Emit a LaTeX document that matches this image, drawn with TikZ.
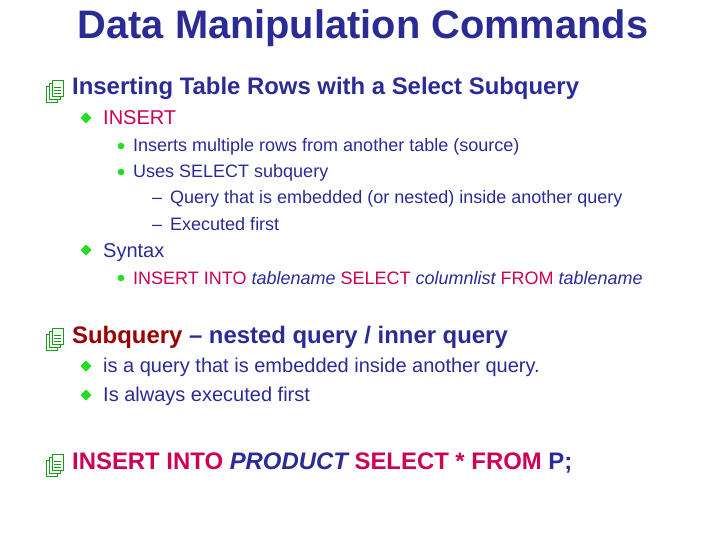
\documentclass[tikz,border=0pt]{standalone}
\usepackage{fontspec}
\setmainfont{Liberation Sans}
\usetikzlibrary{calc}
\definecolor{tblue}{HTML}{2B2B96}
\definecolor{tpink}{HTML}{CC0055}
\definecolor{tred}{HTML}{990000}
\definecolor{tgreen}{HTML}{22DD22}
\begin{document}
\begin{tikzpicture}[x=1pt,y=-1pt,
  every node/.style={anchor=base west,inner sep=0pt,text=tblue},
  ttl/.style={font=\fontsize{39.8}{42}\selectfont\bfseries},
  lone/.style={font=\fontsize{23.9}{26}\selectfont\bfseries},
  ltwo/.style={font=\fontsize{20}{22}\selectfont},
  lthree/.style={font=\fontsize{18}{20}\selectfont},
  diam/.style={fill=tgreen},
  dot/.style={fill=tgreen}]
\useasboundingbox (0,0) rectangle (720,540);
\node[ttl,anchor=base] (title) at (363,39) {Data Manipulation Commands};
\newcommand\pageicon[1]{%
  \foreach \d in {0,3,6}{\filldraw[draw=tgreen!70!black,fill=white,line width=0.6pt] ($(#1)+(\d,-\d)$) rectangle ++(11,-16);}
  \foreach \l in {3,6,9,12}{\draw[tgreen!70!black,line width=0.5pt] ($(#1)+(8,-3-\l)$) -- ++(7,0);}
}
\coordinate (i1) at (46,102); \pageicon{i1}
\coordinate (i2) at (46,350); \pageicon{i2}
\coordinate (i3) at (46,476); \pageicon{i3}
\node[lone] (a) at (72,95) {Inserting Table Rows with a Select Subquery};
\node[ltwo,text=tpink] (b) at (103,125) {INSERT};
\node[lthree] (c) at (133,152) {Inserts multiple rows from another table (source)};
\node[lthree] (d) at (133,178) {Uses SELECT subquery};
\node[lthree] (e) at (152,204) {–\hspace{8pt}Query that is embedded (or nested) inside another query};
\node[lthree] (f) at (152,230) {–\hspace{8pt}Executed first};
\node[ltwo] (g) at (103,257) {Syntax};
\node[lthree,text=tpink] (h) at (133,284) {INSERT INTO \textcolor{tblue}{\itshape tablename} SELECT \textcolor{tblue}{\itshape columnlist} FROM \textcolor{tblue}{\itshape tablename}};
\node[lone] (k) at (72,343) {\textcolor{tred}{Subquery} – nested query / inner query};
\node[ltwo] (l) at (103,372) {is a query that is embedded inside another query.};
\node[ltwo] (m) at (103,401) {Is always executed first};
\node[lone,text=tpink] (n) at (72,469) {INSERT INTO \textcolor{tblue}{\itshape PRODUCT} SELECT * FROM \textcolor{tblue}{P;}};
\foreach \y in {118,250,366,395}{\fill[diam] (86,\y-5.5) -- (91.5,\y) -- (86,\y+5.5) -- (80.5,\y) -- cycle;}
\foreach \y in {146,172,278}{\fill[dot] (121,\y) circle (3.3);}
\end{tikzpicture}
\end{document}
